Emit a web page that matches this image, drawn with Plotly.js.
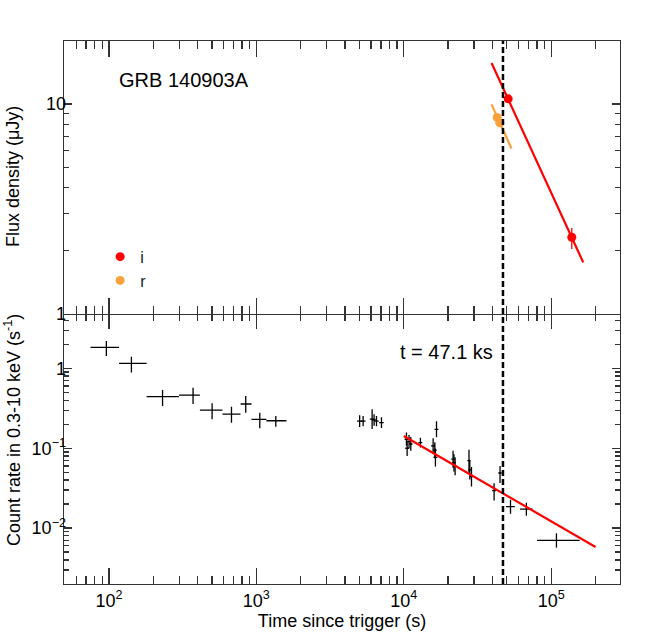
<!DOCTYPE html>
<html>
<head>
<meta charset="utf-8">
<script src="https://cdn.plot.ly/plotly-3.0.1.min.js"></script>
<style>
  html, body { margin: 0; padding: 0; background: #fff; }
  #plot { width: 648px; height: 640px; }
</style>
</head>
<body>
<div id="plot"></div>
<script>
// X-ray light curve (count rate, s^-1)
var xrtTime     = [96, 142, 231, 372, 501, 678, 847, 1055, 1355,
                   5020, 5300, 6100, 6290, 6530, 7060,
                   10430, 10860, 10540, 11160, 12970,
                   16680, 15820, 16250, 16400,
                   21600, 21900, 22300,
                   27700, 28050, 28800,
                   41000, 45000, 53000, 67900, 108600];
var xrtTimeLo   = [21, 25, 51, 73, 87, 89, 65, 128, 185,
                   200, 200, 220, 220, 230, 250,
                   300, 300, 300, 300, 400,
                   500, 500, 500, 500,
                   600, 600, 600,
                   700, 700, 700,
                   1200, 1200, 3700, 6500, 28400];
var xrtTimeHi   = [21, 38, 67, 42, 88, 102, 80, 115, 245,
                   200, 200, 220, 220, 230, 250,
                   300, 300, 300, 300, 400,
                   500, 500, 500, 500,
                   600, 600, 600,
                   700, 700, 700,
                   1200, 1200, 3700, 6800, 47400];
var xrtRate     = [1.83, 1.155, 0.442, 0.464, 0.301, 0.268, 0.358, 0.230, 0.221,
                   0.219, 0.219, 0.232, 0.226, 0.219, 0.209,
                   0.1296, 0.121, 0.100, 0.113, 0.1175,
                   0.1727, 0.107, 0.095, 0.077,
                   0.0729, 0.066, 0.060,
                   0.070, 0.0537, 0.0442,
                   0.0295, 0.049, 0.0186, 0.0173, 0.0070];
var xrtRateLo   = [0.40, 0.265, 0.104, 0.106, 0.071, 0.059, 0.079, 0.052, 0.035,
                   0.035, 0.030, 0.058, 0.035, 0.030, 0.030,
                   0.022, 0.022, 0.020, 0.020, 0.015,
                   0.035, 0.022, 0.020, 0.018,
                   0.016, 0.015, 0.014,
                   0.020, 0.013, 0.011,
                   0.0074, 0.0122, 0.0035, 0.0030, 0.0013];
var xrtRateHi   = [0.38, 0.245, 0.093, 0.109, 0.064, 0.063, 0.092, 0.049, 0.032,
                   0.040, 0.035, 0.077, 0.040, 0.035, 0.035,
                   0.028, 0.026, 0.025, 0.025, 0.018,
                   0.045, 0.026, 0.024, 0.022,
                   0.020, 0.018, 0.017,
                   0.026, 0.016, 0.014,
                   0.0070, 0.0110, 0.0040, 0.0035, 0.0016];

// X-ray power-law fit (end points)
var xrtFitTime = [10000, 200000];
var xrtFitRate = [0.1425, 0.0058];

// optical, i band (uJy)
var iTime  = [51100, 138000];
var iFlux  = [10.6, 2.32];
var iErrLo = [0.35, 0.28];
var iErrHi = [0.35, 0.25];
var iFitTime = [39400, 165000];
var iFitFlux = [15.7, 1.76];

// optical, r band (uJy)
var rTime  = [43000, 44800];
var rFlux  = [8.64, 8.15];
var rErr   = [0.3, 0.3];
var rFitTime = [39400, 53800];
var rFitFlux = [9.97, 6.14];

var tBreak = 47100;

var xTickVals = [100, 1000, 10000, 100000];
var xTickText = ['10<sup>2</sup>', '10<sup>3</sup>', '10<sup>4</sup>', '10<sup>5</sup>'];
var yLowTickVals = [0.01, 0.1, 1];
var yLowTickText = ['10<sup>\u22122</sup>', '10<sup>\u22121</sup>', '1'];
var yTopTickVals = [1, 10];
var yTopTickText = ['1', '10'];

var RED = '#ff0000';
var ORANGE = '#f9a13c';
var FRAME = '#333';
var FONT = 'Liberation Sans, Arial, sans-serif';

// tick style kept to what draws reliably in plotly 3 (minor via D1, no minor.showgrid)
function xAxis(extra) {
    var a = {
        type: 'log',
        range: [1.695, 5.467],
        tickmode: 'array',
        tickvals: xTickVals.slice(),
        ticktext: xTickText.slice(),
        ticks: 'inside',
        ticklen: 16,
        tickwidth: 1.3,
        tickcolor: FRAME,
        minor: {dtick: 'D1', ticks: 'inside', ticklen: 8, tickwidth: 1.3, tickcolor: FRAME},
        showline: true,
        linecolor: FRAME,
        linewidth: 1.4,
        mirror: 'ticks',
        showgrid: false,
        zeroline: false,
        tickfont: {family: FONT, size: 18, color: '#000'}
    };
    for (var k in extra) a[k] = extra[k];
    return a;
}

function yAxis(extra) {
    var a = {
        type: 'log',
        tickmode: 'array',
        ticks: 'inside',
        ticklen: 8,
        tickwidth: 1.3,
        tickcolor: FRAME,
        minor: {dtick: 'D1', ticks: 'inside', ticklen: 5, tickwidth: 1.3, tickcolor: FRAME},
        showline: true,
        linecolor: FRAME,
        linewidth: 1.4,
        mirror: 'ticks',
        showgrid: false,
        zeroline: false,
        ticklabelstandoff: -7,
        tickfont: {family: FONT, size: 18, color: '#000'}
    };
    for (var k in extra) a[k] = extra[k];
    return a;
}

var traces = [
    {
        x: xrtTime, y: xrtRate, xaxis: 'x', yaxis: 'y',
        type: 'scatter', mode: 'markers',
        marker: {size: 1, color: '#000'},
        error_x: {type: 'data', symmetric: false, array: xrtTimeHi, arrayminus: xrtTimeLo, width: 0, thickness: 1.3, color: '#000'},
        error_y: {type: 'data', symmetric: false, array: xrtRateHi, arrayminus: xrtRateLo, width: 0, thickness: 1.3, color: '#000'},
        showlegend: false, hoverinfo: 'x+y'
    },
    {
        x: xrtFitTime, y: xrtFitRate, xaxis: 'x', yaxis: 'y',
        type: 'scatter', mode: 'lines',
        line: {color: RED, width: 2.2},
        showlegend: false
    },
    {
        x: iFitTime, y: iFitFlux, xaxis: 'x2', yaxis: 'y2',
        type: 'scatter', mode: 'lines',
        line: {color: RED, width: 2.2},
        showlegend: false
    },
    {
        x: rFitTime, y: rFitFlux, xaxis: 'x2', yaxis: 'y2',
        type: 'scatter', mode: 'lines',
        line: {color: ORANGE, width: 2.2},
        showlegend: false
    },
    {
        x: iTime, y: iFlux, xaxis: 'x2', yaxis: 'y2',
        type: 'scatter', mode: 'markers', name: 'i',
        marker: {size: 9, color: RED},
        error_y: {type: 'data', symmetric: false, array: iErrHi, arrayminus: iErrLo, width: 0, thickness: 1.3, color: RED}
    },
    {
        x: rTime, y: rFlux, xaxis: 'x2', yaxis: 'y2',
        type: 'scatter', mode: 'markers', name: 'r',
        marker: {size: 9, color: ORANGE},
        error_y: {type: 'data', array: rErr, width: 0, thickness: 1.3, color: ORANGE}
    }
];

var layout = {
    width: 648,
    height: 640,
    margin: {l: 64, r: 28, t: 41, b: 56},
    font: {family: FONT, size: 18},
    xaxis: xAxis({
        domain: [0, 1], anchor: 'y',
        title: {text: 'Time since trigger (s)', font: {family: FONT, size: 18, color: '#000'}, standoff: 4}
    }),
    xaxis2: xAxis({domain: [0, 1], anchor: 'y2', showticklabels: false}),
    yaxis: yAxis({
        domain: [0, 0.5], anchor: 'x',
        range: [-2.7, 0.7],
        tickvals: yLowTickVals, ticktext: yLowTickText
    }),
    yaxis2: yAxis({
        domain: [0.4975, 1], anchor: 'x2',
        range: [0, 1.301],
        tickvals: yTopTickVals, ticktext: yTopTickText
    }),
    showlegend: true,
    legend: {
        x: 0.065, y: 0.634, xanchor: 'left', yanchor: 'top',
        bgcolor: 'rgba(0,0,0,0)', borderwidth: 0,
        font: {family: FONT, size: 16, color: '#222'},
        tracegroupgap: 0
    },
    shapes: [
        {type: 'line', xref: 'x', yref: 'paper', x0: tBreak, x1: tBreak, y0: 0, y1: 1,
         line: {color: '#000', width: 2.5, dash: '6px,3px'}}
    ],
    annotations: [
        {text: 'GRB 140903A', xref: 'paper', yref: 'paper', x: 0.0962, y: 0.928,
         xanchor: 'left', yanchor: 'middle', showarrow: false,
         font: {family: FONT, size: 20, color: '#000'}},
        {text: 't = 47.1 ks', xref: 'paper', yref: 'paper', x: 0.6016, y: 0.4273,
         xanchor: 'left', yanchor: 'middle', showarrow: false,
         font: {family: FONT, size: 20, color: '#000'}},
        {text: 'Flux density (\u03bcJy)', xref: 'paper', yref: 'paper', x: -0.0917, y: 0.7495,
         xanchor: 'center', yanchor: 'middle', textangle: -90, showarrow: false,
         font: {family: FONT, size: 18, color: '#000'}},
        {text: 'Count rate in 0.3-10 keV (s<sup>-1</sup>)', xref: 'paper', yref: 'paper', x: -0.0935, y: 0.2836,
         xanchor: 'center', yanchor: 'middle', textangle: -90, showarrow: false,
         font: {family: FONT, size: 18, color: '#000'}}
    ]
};

Plotly.newPlot('plot', traces, layout, {displayModeBar: false, staticPlot: true});
</script>
</body>
</html>
